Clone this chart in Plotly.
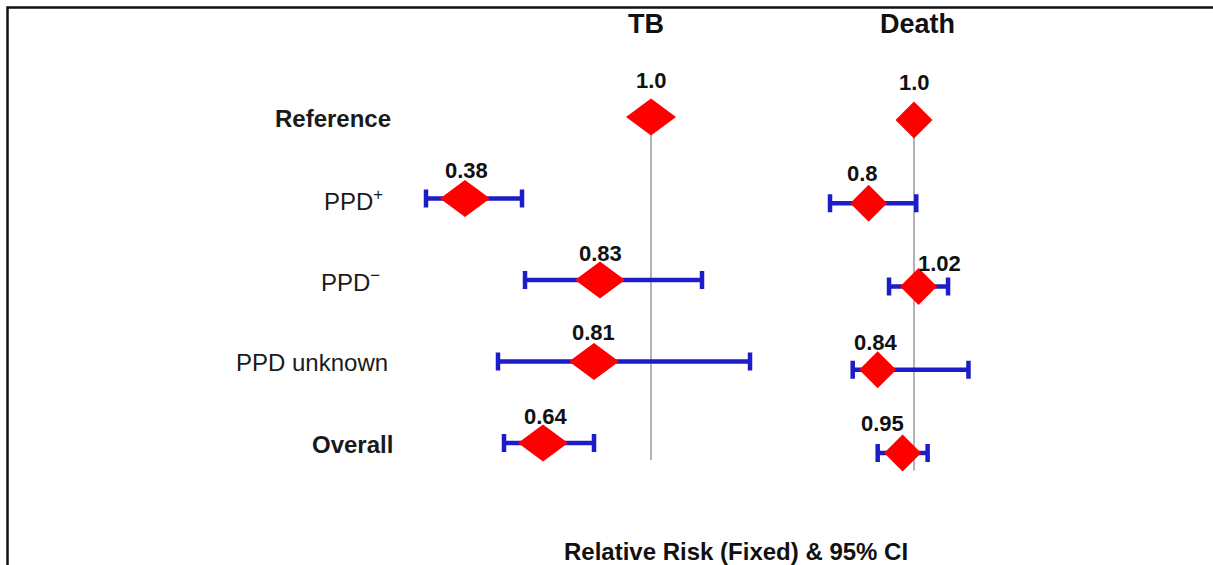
import plotly.graph_objects as go

# ---- data -------------------------------------------------------------
rows = ["Reference", "PPD<sup>+</sup>", "PPD<sup>−</sup>", "PPD unknown", "Overall"]
bold_rows = ["Reference", "Overall"]

tb_rr = [1.0, 0.38, 0.83, 0.81, 0.64]
tb_low = [None, 0.25, 0.58, 0.49, 0.51]
tb_high = [None, 0.57, 1.17, 1.33, 0.81]

death_rr = [1.0, 0.8, 1.02, 0.84, 0.95]
death_low = [None, 0.63, 0.89, 0.73, 0.84]
death_high = [None, 1.01, 1.15, 1.24, 1.06]

panel_titles = ["TB", "Death"]
x_title = "Relative Risk (Fixed) & 95% CI"

# ---- styling / geometry ----------------------------------------------
W, H = 1213, 565
FONT = "Liberation Sans, Arial, Helvetica, sans-serif"
RED = "#ff0000"
BLUE = "#1c1cc8"
GREY = "#9a9a9a"

panels = [
    dict(name=panel_titles[0], rr=tb_rr, low=tb_low, high=tb_high,
         xa="x", ya="y", x_one=651, ppu=300.0, y_first=117, gap=81.5,
         dw=25, dh=18.5, title_dx=-5,
         lab_dx=[0, 1, 0, -1, 3], lab_dy=[37, 28, 27, 29, 27]),
    dict(name=panel_titles[1], rr=death_rr, low=death_low, high=death_high,
         xa="x2", ya="y2", x_one=914, ppu=227.0, y_first=120, gap=83.25,
         dw=18.5, dh=18.5, title_dx=3,
         lab_dx=[0, -6, 21, -2, -20], lab_dy=[38, 30, 23, 27, 30]),
]

row_label_right = 393
row_label_dx = [0, -8, -11, -3, 2]


def fmt(v):
    s = f"{v:.2f}".rstrip("0")
    return s + "0" if s.endswith(".") else s


fig = go.Figure()
shapes = []
annotations = []

for p in panels:
    idx = list(range(len(p["rr"])))
    # vertical line of no effect
    fig.add_trace(go.Scatter(
        x=[1.0, 1.0], y=[0, idx[-1] + 0.21], mode="lines",
        line=dict(color=GREY, width=1.5),
        xaxis=p["xa"], yaxis=p["ya"], hoverinfo="skip", showlegend=False))

    # confidence intervals
    ci_rows = [i for i in idx if p["low"][i] is not None]
    fig.add_trace(go.Scatter(
        x=[p["rr"][i] for i in ci_rows], y=ci_rows, mode="markers",
        marker=dict(size=2, color="rgba(0,0,0,0)"),
        error_x=dict(type="data", symmetric=False,
                     array=[p["high"][i] - p["rr"][i] for i in ci_rows],
                     arrayminus=[p["rr"][i] - p["low"][i] for i in ci_rows],
                     color=BLUE, thickness=4.5, width=9),
        xaxis=p["xa"], yaxis=p["ya"], hoverinfo="skip", showlegend=False))

    # point-estimate diamonds
    for i in idx:
        shapes.append(dict(
            type="path", xref=p["xa"], yref=p["ya"],
            xsizemode="pixel", ysizemode="pixel",
            xanchor=p["rr"][i], yanchor=i,
            path=f"M{-p['dw']},0 L0,{p['dh']} L{p['dw']},0 L0,{-p['dh']} Z",
            fillcolor=RED, line=dict(width=0), layer="above"))
        annotations.append(dict(
            x=p["rr"][i], y=i, xref=p["xa"], yref=p["ya"],
            xanchor="center", yanchor="middle",
            text=f"<b>{fmt(p['rr'][i])}</b>", showarrow=False,
            xshift=p["lab_dx"][i], yshift=p["lab_dy"][i],
            font=dict(family=FONT, size=22, color="#111111")))

    # panel heading
    annotations.append(dict(
        x=1.0, y=1 - 24 / H, xref=p["xa"], yref="paper",
        xanchor="center", yanchor="middle",
        text=f"<b>{p['name']}</b>", showarrow=False, xshift=p["title_dx"],
        font=dict(family=FONT, size=27, color="#111111")))

# row labels
for i, r in enumerate(rows):
    txt = f"<b>{r}</b>" if r in bold_rows else r
    annotations.append(dict(
        x=row_label_right / W, y=i, xref="paper", yref="y",
        xanchor="right", yanchor="middle", text=txt, showarrow=False,
        xshift=row_label_dx[i], yshift=-1,
        font=dict(family=FONT, size=24, color="#1a1a1a")))

# axis caption
annotations.append(dict(
    x=736 / W, y=1 - 551 / H, xref="paper", yref="paper",
    xanchor="center", yanchor="middle",
    text=f"<b>{x_title}</b>", showarrow=False,
    font=dict(family=FONT, size=24, color="#111111")))

# outer frame
shapes.append(dict(type="rect", xref="paper", yref="paper",
                   x0=7.5 / W, x1=1.02, y0=-0.02, y1=1 - 7.5 / H,
                   line=dict(color="#111111", width=2.5), layer="above"))


def x_range(p):
    return [1 + (0 - p["x_one"]) / p["ppu"], 1 + (W - p["x_one"]) / p["ppu"]]


def y_range(p):
    return [(H - p["y_first"]) / p["gap"], (0 - p["y_first"]) / p["gap"]]


hidden = dict(visible=False, showgrid=False, zeroline=False, fixedrange=True)
fig.update_layout(
    width=W, height=H, autosize=False,
    margin=dict(l=0, r=0, t=0, b=0, pad=0),
    paper_bgcolor="white", plot_bgcolor="white",
    showlegend=False,
    xaxis=dict(domain=[0, 1], range=x_range(panels[0]), anchor="y", **hidden),
    yaxis=dict(domain=[0, 1], range=y_range(panels[0]), anchor="x", **hidden),
    xaxis2=dict(domain=[0, 1], range=x_range(panels[1]), anchor="y2",
                overlaying="x", **hidden),
    yaxis2=dict(domain=[0, 1], range=y_range(panels[1]), anchor="x2",
                overlaying="y", **hidden),
    shapes=shapes,
    annotations=annotations,
)

fig.write_html("out.html")
